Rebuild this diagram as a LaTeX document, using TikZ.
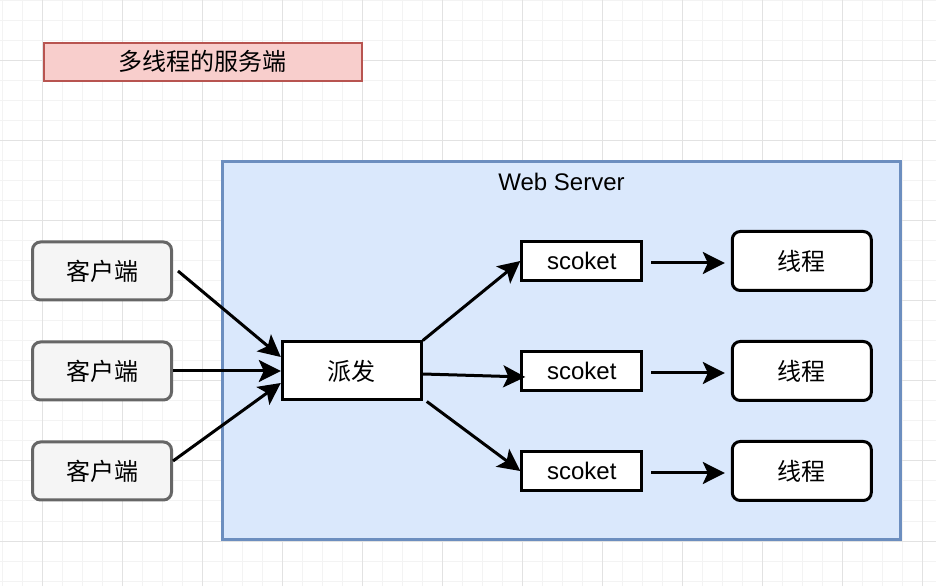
\documentclass[tikz,border=0pt]{standalone}
\usepackage{fontspec}
\setmainfont{Liberation Sans}
\newfontfamily\cjk{Noto Sans CJK SC}
\usepackage{tikz}
\usetikzlibrary{arrows.meta}
\definecolor{gridminor}{HTML}{F3F3F3}
\definecolor{gridmajor}{HTML}{E2E2E2}
\definecolor{titlefill}{HTML}{F8CECC}
\definecolor{titleline}{HTML}{B85450}
\definecolor{serverfill}{HTML}{DAE8FC}
\definecolor{serverline}{HTML}{6C8EBF}
\definecolor{clientfill}{HTML}{F5F5F5}
\definecolor{clientline}{HTML}{666666}

\begin{document}
\begin{tikzpicture}[x=1pt,y=1pt,
    font=\fontsize{24}{28}\selectfont,
    zh/.style={font=\cjk\fontsize{24}{28}\selectfont},
    titlebox/.style={zh,draw=titleline,fill=titlefill,line width=2pt,minimum width=318pt,minimum height=38pt},
    server/.style={draw=serverline,fill=serverfill,line width=3pt,minimum width=678pt,minimum height=378pt},
    client/.style={zh,draw=clientline,fill=clientfill,line width=3pt,rounded corners=8pt,minimum width=139pt,minimum height=58pt},
    dispatch/.style={zh,draw=black,fill=white,line width=3pt,minimum width=139pt,minimum height=58pt},
    sockbox/.style={draw=black,fill=white,line width=3pt,minimum width=120pt,minimum height=39pt},
    worker/.style={zh,draw=black,fill=white,line width=3pt,rounded corners=8pt,minimum width=139pt,minimum height=59pt},
    arr/.style={line width=3pt,-{Stealth[length=22pt,width=22pt,inset=5pt]}}]
      \useasboundingbox (0,0) rectangle (936,586);
      \fill[white] (0,0) rectangle (936,586);
      \foreach \gx in {2.7,22.7,...,936} \draw[gridminor,line width=1pt] (\gx,0) -- (\gx,586);
      \foreach \gy in {5,25,...,586} \draw[gridminor,line width=1pt] (0,\gy) -- (936,\gy);
      \foreach \gx in {42.7,122.7,...,936} \draw[gridmajor,line width=1pt] (\gx,0) -- (\gx,586);
      \foreach \gy in {45,125,...,586} \draw[gridmajor,line width=1pt] (0,\gy) -- (936,\gy);

      \node[titlebox] (title) at (202.8,524.3) {多线程的服务端};
      \node[server] (ws) at (561.5,235.5) {};
      \node (wslabel) at ([yshift=-22pt]ws.north) {Web Server};

      \node[dispatch] (d) at (351.8,215) {派发};
      \node[client,left of=d,node distance=249.8pt] (c2) {客户端};
      \node[client,above of=c2,node distance=100pt] (c1) {客户端};
      \node[client,below of=c2,node distance=100pt] (c3) {客户端};
      \node[sockbox,right of=d,node distance=230pt] (s2) {scoket};
      \node[sockbox,above of=s2,node distance=110pt] (s1) {scoket};
      \node[sockbox,below of=s2,node distance=100pt] (s3) {scoket};
      \node[worker,right of=s1,node distance=220pt] (t1) {线程};
      \node[worker,right of=s2,node distance=220pt] (t2) {线程};
      \node[worker,right of=s3,node distance=220pt] (t3) {线程};

      \draw[arr] ([xshift=5pt]c1.east) -- ([yshift=14pt]d.west);
      \draw[arr] (c2.east) -- (d.west);
      \draw[arr] ([yshift=10pt]c3.east) -- ([yshift=-12pt]d.west);
      \draw[arr] (d.north east) -- (s1.west);
      \draw[arr] ([yshift=-3pt]d.east) -- ([xshift=5pt,yshift=-6pt]s2.west);
      \draw[arr] ([xshift=4pt]d.south east) -- (s3.west);
      \draw[arr] ([xshift=8pt,yshift=-2pt]s1.east) -- ([xshift=-6pt,yshift=-2pt]t1.west);
      \draw[arr] ([xshift=8pt,yshift=-2pt]s2.east) -- ([xshift=-6pt,yshift=-2pt]t2.west);
      \draw[arr] ([xshift=8pt,yshift=-2pt]s3.east) -- ([xshift=-6pt,yshift=-2pt]t3.west);
    \end{tikzpicture}
\end{document}
